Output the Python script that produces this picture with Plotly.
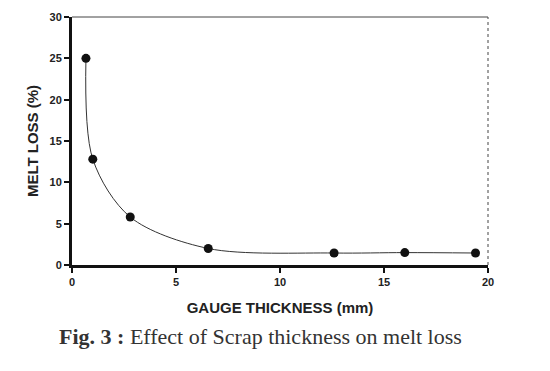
import plotly.graph_objects as go

thickness = [0.67, 1.0, 2.8, 6.55, 12.6, 16.0, 19.4]
melt_loss = [25.0, 12.8, 5.8, 2.0, 1.45, 1.5, 1.45]
x_ticks = [0, 5, 10, 15, 20]
y_ticks = [0, 5, 10, 15, 20, 25, 30]

fig = go.Figure()
fig.add_trace(go.Scatter(
    x=thickness, y=melt_loss, mode="lines",
    line=dict(shape="spline", smoothing=0.9, color="#333333", width=1),
    hoverinfo="skip", showlegend=False,
))
fig.add_trace(go.Scatter(
    x=thickness, y=melt_loss, mode="markers",
    marker=dict(size=9, color="#111111"),
    showlegend=False,
))

tickfont = dict(family="Liberation Sans, Arial", size=11, color="#222222", weight="bold")
fig.update_xaxes(
    range=[0, 20], tickvals=x_ticks, showgrid=False, zeroline=False,
    showline=True, linewidth=3, linecolor="#111111",
    ticks="outside", ticklen=5, tickwidth=2, tickcolor="#111111",
    tickfont=tickfont,
    title=dict(text="<b>GAUGE THICKNESS (mm)</b>", standoff=16,
               font=dict(family="Liberation Sans, Arial", size=15, color="#222222")),
)
fig.update_yaxes(
    range=[0, 30], tickvals=y_ticks, showgrid=False, zeroline=False,
    showline=True, linewidth=3, linecolor="#111111",
    ticks="outside", ticklen=5, tickwidth=2, tickcolor="#111111",
    tickfont=tickfont,
    title=dict(text="<b>MELT LOSS (%)</b>", standoff=8,
               font=dict(family="Liberation Sans, Arial", size=15, color="#222222")),
)
# thin top and right frame lines
fig.add_shape(type="line", xref="paper", yref="paper", x0=0, x1=1, y0=1, y1=1,
              line=dict(color="#444444", width=1))
fig.add_shape(type="line", xref="paper", yref="paper", x0=1, x1=1, y0=0, y1=1,
              line=dict(color="#444444", width=1, dash="dot"))

fig.add_annotation(
    xref="paper", yref="paper", x=0.452, y=-0.29, showarrow=False,
    xanchor="center", yanchor="middle",
    text="<b>Fig. 3 :</b> Effect of Scrap thickness on melt loss",
    font=dict(family="Liberation Serif, DejaVu Serif", size=22, color="#333333"),
)

fig.update_layout(
    width=550, height=371,
    margin=dict(l=72, r=62, t=17, b=106),
    paper_bgcolor="white", plot_bgcolor="white",
)
fig.write_html("out.html", config={"displayModeBar": False},
               post_script="document.body.style.margin='0';document.body.style.overflow='hidden';")
